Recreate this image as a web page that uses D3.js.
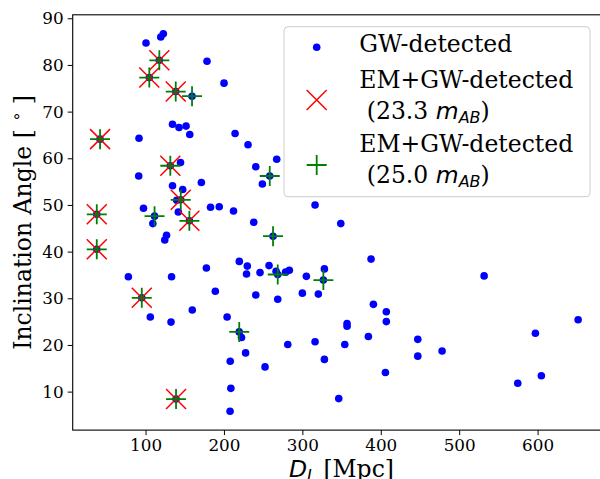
<!DOCTYPE html>
<html>
<head>
<meta charset="utf-8">
<script src="https://cdn.jsdelivr.net/npm/d3@7"></script>
<style>
  body { margin: 0; background: #fff; }
  svg { display: block; }
  text { white-space: pre; }
  .tick text { font-family: "DejaVu Serif", serif; font-size: 16.8px; fill: #000; }
</style>
</head>
<body>
<svg id="chart" width="600" height="479"></svg>
<script>
// luminosity distance [Mpc] and inclination [deg]
var gwDist = [100.6,119.4,122.7,117.6,104.8,138.5,159.3,178.4,200.1,134.4,142.7,151.7,156.4,91.7,42.0,214.2,230.7,
  131.6,144.6,91.3,134.4,147.4,171.2,240.6,249.0,267.3,258.4,144.9,139.8,141.8,155.9,37.8,111.5,97.4,109.3,126.8,124.5,
  182.9,194.0,212.2,238.0,262.6,316.2,349.0,37.8,78.1,133.2,177.6,219.6,229.8,228.8,246.0,257.5,266.5,268.6,278.6,283.4,
  305.1,328.1,326.8,387.6,189.0,240.6,95.2,159.6,106.1,132.5,204.0,268.6,300.0,320.4,390.6,407.1,407.1,219.5,222.4,
  357.0,357.0,384.2,281.4,316.2,354.1,227.6,208.0,328.1,252.4,405.9,208.8,346.4,207.8,138.9,531.8,447.2,447.2,478.2,
  597.2,651.7,604.8,574.7];
var gwIncl = [84.7,86.0,86.7,81.0,77.3,74.3,73.3,80.8,76.1,67.3,66.6,66.9,65.1,64.3,64.1,65.3,62.9,
  58.4,59.1,56.2,54.1,53.3,54.8,58.2,54.5,59.8,56.2,51.1,51.0,48.5,46.6,48.0,47.6,49.3,46.0,43.5,42.5,
  49.5,49.6,48.7,46.3,43.3,50.0,46.0,40.5,34.6,34.6,36.5,37.9,36.9,35.2,35.5,37.0,35.8,35.1,35.6,36.0,
  34.7,36.3,33.9,38.4,31.5,30.7,30.1,27.5,26.0,24.9,26.0,29.8,31.1,30.9,28.7,27.1,25.0,22.8,21.6,
  24.6,24.0,21.8,20.1,20.7,20.1,18.3,16.5,16.9,15.3,14.1,10.7,8.5,5.8,8.4,34.8,21.2,17.6,18.7,
  22.5,25.4,13.4,11.8];

var em233Dist = [117.6,104.8,138.5,42.0,131.6,144.9,155.9,37.8,37.8,95.2,138.9];
var em233Incl = [81.0,77.3,74.3,64.1,58.4,51.1,46.6,48.0,40.5,30.1,8.4];

var em250Dist = [117.6,104.8,138.5,159.3,42.0,131.6,144.9,155.9,37.8,111.5,258.4,262.6,37.8,268.6,326.8,95.2,219.5,138.9];
var em250Incl = [81.0,77.3,74.3,73.3,64.1,58.4,51.1,46.6,48.0,47.6,56.2,43.3,40.5,35.1,33.9,30.1,22.8,8.4];

var xTicks = [100,200,300,400,500,600];
var yTicks = [10,20,30,40,50,60,70,80,90];

var svg = d3.select("#chart");
var axL = 72.7, axR = 602.2, axT = 14.8, axB = 430.1;

// matplotlib style 5% margins around the data
function padded(vals){
  var ext = d3.extent(vals);
  var pad = (ext[1]-ext[0])*0.05;
  return [ext[0]-pad, ext[1]+pad];
}

var x = d3.scaleLinear().domain(padded(gwDist)).range([axL, axR]);
var y = d3.scaleLinear().domain(padded(gwIncl)).range([axB, axT]);

var xAxis = svg.append("g")
  .attr("transform", "translate(0," + axB + ")")
  .call(d3.axisBottom(x).tickValues(xTicks).tickSize(5).tickPadding(4).tickFormat(d3.format("d")));
var yAxis = svg.append("g")
  .attr("transform", "translate(" + axL + ",0)")
  .call(d3.axisLeft(y).tickValues(yTicks).tickSize(5).tickPadding(4).tickFormat(d3.format("d")));

[xAxis, yAxis].forEach(function(g){
  g.select(".domain").remove();
  g.selectAll(".tick line").attr("stroke", "#000").attr("stroke-width", 1);
});

// frame (right spine falls just outside the picture)
svg.append("rect")
  .attr("x", axL).attr("y", axT)
  .attr("width", axR-axL).attr("height", axB-axT)
  .attr("fill", "none").attr("stroke", "#000").attr("stroke-width", 1.1);

var plot = svg.append("g");

plot.selectAll("circle.gw")
  .data(d3.range(gwDist.length))
  .enter().append("circle")
  .attr("class", "gw")
  .attr("cx", function(i){ return x(gwDist[i]); })
  .attr("cy", function(i){ return y(gwIncl[i]); })
  .attr("r", 3.8)
  .attr("fill", "#0000ff");

var xs = 10, ps = 10;
function crossPath(cx, cy, s){
  return "M" + (cx-s) + "," + (cy-s) + "L" + (cx+s) + "," + (cy+s) +
         "M" + (cx-s) + "," + (cy+s) + "L" + (cx+s) + "," + (cy-s);
}
function plusPath(cx, cy, s){
  return "M" + (cx-s) + "," + cy + "L" + (cx+s) + "," + cy +
         "M" + cx + "," + (cy-s) + "L" + cx + "," + (cy+s);
}

plot.selectAll("path.em233")
  .data(d3.range(em233Dist.length))
  .enter().append("path")
  .attr("class", "em233")
  .attr("d", function(i){ return crossPath(x(em233Dist[i]), y(em233Incl[i]), xs); })
  .attr("stroke", "#ff0000").attr("stroke-width", 1.5).attr("fill", "none");

plot.selectAll("path.em250")
  .data(d3.range(em250Dist.length))
  .enter().append("path")
  .attr("class", "em250")
  .attr("d", function(i){ return plusPath(x(em250Dist[i]), y(em250Incl[i]), ps); })
  .attr("stroke", "#008000").attr("stroke-width", 1.8).attr("fill", "none");

// axis labels (x label is cropped by the bottom edge, as in the figure)
var xl = svg.append("text")
  .attr("x", (axL+axR)/2 + 4).attr("y", 477)
  .attr("text-anchor", "middle")
  .style("font-family", "DejaVu Serif").style("font-size", "23.5px");
xl.append("tspan").text("D").style("font-family", "DejaVu Sans").style("font-style", "italic");
xl.append("tspan").text("L").attr("dy", 4).style("font-family", "DejaVu Sans").style("font-style", "italic").style("font-size", "16px");
xl.append("tspan").text(" [Mpc]").attr("dy", -4);

var yl = svg.append("text")
  .attr("transform", "translate(31," + ((axT+axB)/2) + ") rotate(-90)")
  .attr("text-anchor", "middle")
  .style("font-family", "DejaVu Serif").style("font-size", "23.5px");
yl.append("tspan").text("Inclination Angle [ ");
yl.append("tspan").text("∘").attr("dy", -9).style("font-family", "DejaVu Sans").style("font-size", "16px");
yl.append("tspan").text(" ]").attr("dy", 9);

// legend
var lg = svg.append("g");
lg.append("rect")
  .attr("x", 284).attr("y", 26.7).attr("width", 306).attr("height", 170)
  .attr("rx", 4).attr("fill", "#fff").attr("fill-opacity", 0.8)
  .attr("stroke", "#cccccc").attr("stroke-width", 1);

lg.append("circle").attr("cx", 316.7).attr("cy", 47.3).attr("r", 3.8).attr("fill", "#0000ff");
lg.append("path").attr("d", crossPath(316.7, 100, xs))
  .attr("stroke", "#ff0000").attr("stroke-width", 1.5).attr("fill", "none");
lg.append("path").attr("d", plusPath(316.7, 165, ps))
  .attr("stroke", "#008000").attr("stroke-width", 1.8).attr("fill", "none");

function legendText(ty, parts){
  var t = lg.append("text").attr("x", 359.3).attr("y", ty)
    .style("font-family", "DejaVu Serif").style("font-size", "23.5px");
  parts(t);
}
function magLine(t, mag){
  t.append("tspan").text(" (" + mag + " ");
  t.append("tspan").text("m").style("font-family", "DejaVu Sans").style("font-style", "italic");
  t.append("tspan").text("AB").attr("dy", 4).style("font-family", "DejaVu Sans").style("font-style", "italic").style("font-size", "16px");
  t.append("tspan").text(")").attr("dy", -4);
}
legendText(52, function(t){ t.text("GW-detected"); });
legendText(88, function(t){ t.text("EM+GW-detected"); });
legendText(119, function(t){ magLine(t, "23.3"); });
legendText(152, function(t){ t.text("EM+GW-detected"); });
legendText(183, function(t){ magLine(t, "25.0"); });
</script>
</body>
</html>
